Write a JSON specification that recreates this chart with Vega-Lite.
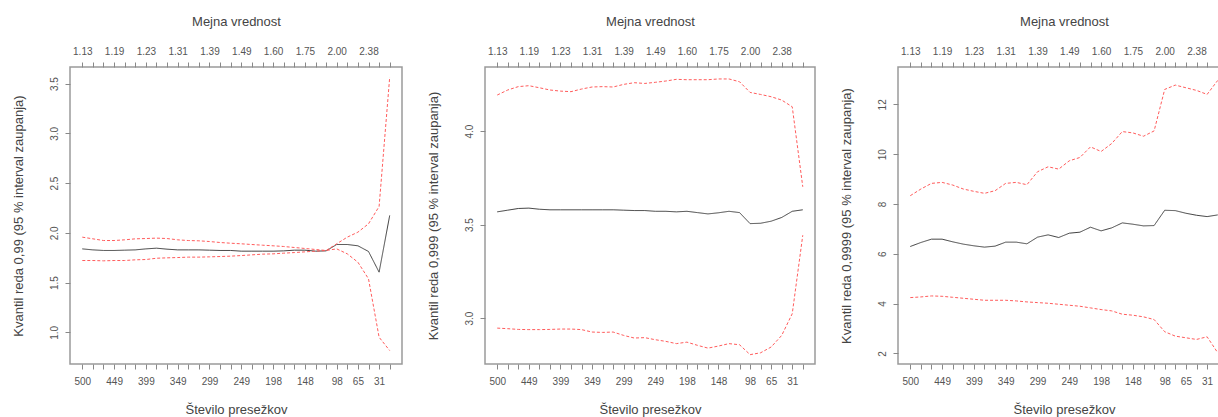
{
  "$schema": "https://vega.github.io/schema/vega-lite/v6.json",
  "padding": {"left": 11, "top": 14, "right": 0, "bottom": 0},
  "spacing": 23,
  "datasets": {
    "p1": [
      {"i":0,"est":1.839,"lo":1.722,"hi":1.957},
      {"i":1,"est":1.829,"lo":1.722,"hi":1.940},
      {"i":2,"est":1.823,"lo":1.719,"hi":1.923},
      {"i":3,"est":1.823,"lo":1.722,"hi":1.923},
      {"i":4,"est":1.826,"lo":1.722,"hi":1.930},
      {"i":5,"est":1.829,"lo":1.729,"hi":1.940},
      {"i":6,"est":1.839,"lo":1.732,"hi":1.943},
      {"i":7,"est":1.846,"lo":1.745,"hi":1.947},
      {"i":8,"est":1.836,"lo":1.749,"hi":1.943},
      {"i":9,"est":1.829,"lo":1.752,"hi":1.930},
      {"i":10,"est":1.829,"lo":1.756,"hi":1.923},
      {"i":11,"est":1.829,"lo":1.756,"hi":1.920},
      {"i":12,"est":1.826,"lo":1.759,"hi":1.913},
      {"i":13,"est":1.823,"lo":1.762,"hi":1.903},
      {"i":14,"est":1.823,"lo":1.766,"hi":1.896},
      {"i":15,"est":1.816,"lo":1.772,"hi":1.890},
      {"i":16,"est":1.816,"lo":1.779,"hi":1.883},
      {"i":17,"est":1.816,"lo":1.786,"hi":1.876},
      {"i":18,"est":1.816,"lo":1.789,"hi":1.870},
      {"i":19,"est":1.819,"lo":1.796,"hi":1.863},
      {"i":20,"est":1.826,"lo":1.802,"hi":1.853},
      {"i":21,"est":1.826,"lo":1.809,"hi":1.843},
      {"i":22,"est":1.816,"lo":1.816,"hi":1.833},
      {"i":23,"est":1.819,"lo":1.823,"hi":1.823},
      {"i":24,"est":1.883,"lo":1.839,"hi":1.890},
      {"i":25,"est":1.883,"lo":1.789,"hi":1.957},
      {"i":26,"est":1.870,"lo":1.705,"hi":2.007},
      {"i":27,"est":1.813,"lo":1.538,"hi":2.091},
      {"i":28,"est":1.605,"lo":0.951,"hi":2.265},
      {"i":29,"est":2.175,"lo":0.817,"hi":3.566}
    ],
    "p2": [
      {"i":0,"est":3.568,"lo":2.946,"hi":4.193},
      {"i":1,"est":3.577,"lo":2.943,"hi":4.220},
      {"i":2,"est":3.586,"lo":2.939,"hi":4.238},
      {"i":3,"est":3.588,"lo":2.938,"hi":4.243},
      {"i":4,"est":3.582,"lo":2.938,"hi":4.232},
      {"i":5,"est":3.579,"lo":2.939,"hi":4.220},
      {"i":6,"est":3.579,"lo":2.941,"hi":4.214},
      {"i":7,"est":3.579,"lo":2.941,"hi":4.211},
      {"i":8,"est":3.579,"lo":2.938,"hi":4.225},
      {"i":9,"est":3.579,"lo":2.925,"hi":4.236},
      {"i":10,"est":3.579,"lo":2.923,"hi":4.238},
      {"i":11,"est":3.579,"lo":2.925,"hi":4.236},
      {"i":12,"est":3.577,"lo":2.907,"hi":4.250},
      {"i":13,"est":3.575,"lo":2.893,"hi":4.259},
      {"i":14,"est":3.575,"lo":2.895,"hi":4.255},
      {"i":15,"est":3.571,"lo":2.884,"hi":4.261},
      {"i":16,"est":3.571,"lo":2.875,"hi":4.268},
      {"i":17,"est":3.568,"lo":2.863,"hi":4.277},
      {"i":18,"est":3.571,"lo":2.871,"hi":4.275},
      {"i":19,"est":3.564,"lo":2.854,"hi":4.275},
      {"i":20,"est":3.557,"lo":2.839,"hi":4.275},
      {"i":21,"est":3.563,"lo":2.850,"hi":4.279},
      {"i":22,"est":3.571,"lo":2.863,"hi":4.279},
      {"i":23,"est":3.564,"lo":2.857,"hi":4.264},
      {"i":24,"est":3.505,"lo":2.804,"hi":4.207},
      {"i":25,"est":3.507,"lo":2.814,"hi":4.196},
      {"i":26,"est":3.518,"lo":2.845,"hi":4.184},
      {"i":27,"est":3.538,"lo":2.907,"hi":4.166},
      {"i":28,"est":3.571,"lo":3.023,"hi":4.130},
      {"i":29,"est":3.579,"lo":3.443,"hi":3.702}
    ],
    "p3": [
      {"i":0,"est":6.293,"lo":4.240,"hi":8.333},
      {"i":1,"est":6.453,"lo":4.267,"hi":8.600},
      {"i":2,"est":6.587,"lo":4.307,"hi":8.827},
      {"i":3,"est":6.587,"lo":4.293,"hi":8.867},
      {"i":4,"est":6.480,"lo":4.253,"hi":8.760},
      {"i":5,"est":6.387,"lo":4.213,"hi":8.600},
      {"i":6,"est":6.320,"lo":4.173,"hi":8.507},
      {"i":7,"est":6.267,"lo":4.133,"hi":8.427},
      {"i":8,"est":6.307,"lo":4.133,"hi":8.533},
      {"i":9,"est":6.467,"lo":4.133,"hi":8.827},
      {"i":10,"est":6.467,"lo":4.107,"hi":8.867},
      {"i":11,"est":6.400,"lo":4.067,"hi":8.773},
      {"i":12,"est":6.667,"lo":4.040,"hi":9.293},
      {"i":13,"est":6.760,"lo":4.013,"hi":9.493},
      {"i":14,"est":6.653,"lo":3.973,"hi":9.400},
      {"i":15,"est":6.827,"lo":3.933,"hi":9.733},
      {"i":16,"est":6.867,"lo":3.893,"hi":9.867},
      {"i":17,"est":7.067,"lo":3.827,"hi":10.293},
      {"i":18,"est":6.920,"lo":3.760,"hi":10.107},
      {"i":19,"est":7.040,"lo":3.707,"hi":10.427},
      {"i":20,"est":7.240,"lo":3.573,"hi":10.907},
      {"i":21,"est":7.187,"lo":3.533,"hi":10.853},
      {"i":22,"est":7.120,"lo":3.467,"hi":10.720},
      {"i":23,"est":7.133,"lo":3.360,"hi":10.933},
      {"i":24,"est":7.747,"lo":2.870,"hi":12.600},
      {"i":25,"est":7.733,"lo":2.693,"hi":12.773},
      {"i":26,"est":7.627,"lo":2.627,"hi":12.667},
      {"i":27,"est":7.547,"lo":2.560,"hi":12.560},
      {"i":28,"est":7.493,"lo":2.667,"hi":12.400},
      {"i":29,"est":7.560,"lo":2.027,"hi":12.960}
    ]
  },
  "hconcat": [
    {
      "width": 332,
      "height": 297,
      "data": {"name": "p1"},
      "transform": [{"fold": ["est", "lo", "hi"], "as": ["s", "v"]}],
      "layer": [
        {
          "mark": {"type": "line", "strokeWidth": 1},
          "encoding": {
            "x": {"field": "i", "type": "quantitative",
              "scale": {"domain": [-1.16, 30.16], "nice": false, "zero": false},
              "axis": {"orient": "bottom", "title": "Število presežkov", "values": [0,1,2,3,4,5,6,7,8,9,10,11,12,13,14,15,16,17,18,19,20,21,22,23,24,25,26,27,28,29],
                "labelExpr": "['500','','','449','','','399','','','349','','','299','','','249','','','198','','','148','','','98','','65','','31',''][datum.value]",
                "labelOverlap": false, "labelFlush": false, "labelBound": false, "labelPadding": 7, "titlePadding": 17}},
            "y": {"field": "v", "type": "quantitative",
              "scale": {"domain": [0.682, 3.667], "nice": false, "zero": false},
              "axis": {"title": "Kvantil reda 0,99 (95 % interval zaupanja)", "values": [1, 1.5, 2, 2.5, 3, 3.5], "format": ".1f",
                "labelAngle": -90, "labelAlign": "center", "labelBaseline": "bottom", "labelPadding": 6, "titlePadding": 24}},
            "color": {"field": "s", "type": "nominal", "scale": {"domain": ["est", "lo", "hi"], "range": ["#404040", "#ff5c5c", "#ff5c5c"]}, "legend": null},
            "strokeDash": {"field": "s", "type": "nominal", "scale": {"domain": ["est", "lo", "hi"], "range": [[1, 0], [3, 2], [3, 2]]}, "legend": null}
          }
        },
        {
          "mark": {"type": "rule", "opacity": 0},
          "encoding": {
            "x": {"field": "i", "type": "quantitative",
              "axis": {"orient": "top", "title": "Mejna vrednost", "values": [0,1,2,3,4,5,6,7,8,9,10,11,12,13,14,15,16,17,18,19,20,21,22,23,24,25,26,27,28,29],
                "labelExpr": "['1.13','','','1.19','','','1.23','','','1.31','','','1.39','','','1.49','','','1.60','','','1.75','','','2.00','','','2.38','',''][datum.value]",
                "labelOverlap": false, "labelFlush": false, "labelBound": false, "labelPadding": 6, "titlePadding": 18}}
          }
        }
      ],
      "resolve": {"axis": {"x": "independent"}}
    },
    {
      "width": 330,
      "height": 297,
      "data": {"name": "p2"},
      "transform": [{"fold": ["est", "lo", "hi"], "as": ["s", "v"]}],
      "layer": [
        {
          "mark": {"type": "line", "strokeWidth": 1},
          "encoding": {
            "x": {"field": "i", "type": "quantitative",
              "scale": {"domain": [-1.16, 30.16], "nice": false, "zero": false},
              "axis": {"orient": "bottom", "title": "Število presežkov", "values": [0,1,2,3,4,5,6,7,8,9,10,11,12,13,14,15,16,17,18,19,20,21,22,23,24,25,26,27,28,29],
                "labelExpr": "['500','','','449','','','399','','','349','','','299','','','249','','','198','','','148','','','98','','65','','31',''][datum.value]",
                "labelOverlap": false, "labelFlush": false, "labelBound": false, "labelPadding": 7, "titlePadding": 17}},
            "y": {"field": "v", "type": "quantitative",
              "scale": {"domain": [2.754, 4.343], "nice": false, "zero": false},
              "axis": {"title": "Kvantil reda 0,999 (95 % interval zaupanja)", "values": [3, 3.5, 4], "format": ".1f",
                "labelAngle": -90, "labelAlign": "center", "labelBaseline": "bottom", "labelPadding": 6, "titlePadding": 24}},
            "color": {"field": "s", "type": "nominal", "scale": {"domain": ["est", "lo", "hi"], "range": ["#404040", "#ff5c5c", "#ff5c5c"]}, "legend": null},
            "strokeDash": {"field": "s", "type": "nominal", "scale": {"domain": ["est", "lo", "hi"], "range": [[1, 0], [3, 2], [3, 2]]}, "legend": null}
          }
        },
        {
          "mark": {"type": "rule", "opacity": 0},
          "encoding": {
            "x": {"field": "i", "type": "quantitative",
              "axis": {"orient": "top", "title": "Mejna vrednost", "values": [0,1,2,3,4,5,6,7,8,9,10,11,12,13,14,15,16,17,18,19,20,21,22,23,24,25,26,27,28,29],
                "labelExpr": "['1.13','','','1.19','','','1.23','','','1.31','','','1.39','','','1.49','','','1.60','','','1.75','','','2.00','','','2.38','',''][datum.value]",
                "labelOverlap": false, "labelFlush": false, "labelBound": false, "labelPadding": 6, "titlePadding": 18}}
          }
        }
      ],
      "resolve": {"axis": {"x": "independent"}}
    },
    {
      "width": 332,
      "height": 297,
      "data": {"name": "p3"},
      "transform": [{"fold": ["est", "lo", "hi"], "as": ["s", "v"]}],
      "layer": [
        {
          "mark": {"type": "line", "strokeWidth": 1},
          "encoding": {
            "x": {"field": "i", "type": "quantitative",
              "scale": {"domain": [-1.16, 30.16], "nice": false, "zero": false},
              "axis": {"orient": "bottom", "title": "Število presežkov", "values": [0,1,2,3,4,5,6,7,8,9,10,11,12,13,14,15,16,17,18,19,20,21,22,23,24,25,26,27,28,29],
                "labelExpr": "['500','','','449','','','399','','','349','','','299','','','249','','','198','','','148','','','98','','65','','31',''][datum.value]",
                "labelOverlap": false, "labelFlush": false, "labelBound": false, "labelPadding": 7, "titlePadding": 17}},
            "y": {"field": "v", "type": "quantitative",
              "scale": {"domain": [1.574, 13.5], "nice": false, "zero": false},
              "axis": {"title": "Kvantil reda 0,9999 (95 % interval zaupanja)", "values": [2, 4, 6, 8, 10, 12], "format": "d",
                "labelAngle": -90, "labelAlign": "center", "labelBaseline": "bottom", "labelPadding": 6, "titlePadding": 24}},
            "color": {"field": "s", "type": "nominal", "scale": {"domain": ["est", "lo", "hi"], "range": ["#404040", "#ff5c5c", "#ff5c5c"]}, "legend": null},
            "strokeDash": {"field": "s", "type": "nominal", "scale": {"domain": ["est", "lo", "hi"], "range": [[1, 0], [3, 2], [3, 2]]}, "legend": null}
          }
        },
        {
          "mark": {"type": "rule", "opacity": 0},
          "encoding": {
            "x": {"field": "i", "type": "quantitative",
              "axis": {"orient": "top", "title": "Mejna vrednost", "values": [0,1,2,3,4,5,6,7,8,9,10,11,12,13,14,15,16,17,18,19,20,21,22,23,24,25,26,27,28,29],
                "labelExpr": "['1.13','','','1.19','','','1.23','','','1.31','','','1.39','','','1.49','','','1.60','','','1.75','','','2.00','','','2.38','',''][datum.value]",
                "labelOverlap": false, "labelFlush": false, "labelBound": false, "labelPadding": 6, "titlePadding": 18}}
          }
        }
      ],
      "resolve": {"axis": {"x": "independent"}}
    }
  ],
  "config": {
    "font": "Liberation Sans",
    "view": {"stroke": "#9a9a9a", "strokeWidth": 1.5},
    "axis": {
      "domain": false,
      "grid": false,
      "tickColor": "#888888",
      "tickSize": 5,
      "labelColor": "#555555",
      "labelFontSize": 10,
      "labelFont": "Liberation Sans",
      "titleColor": "#444444",
      "titleFontSize": 13,
      "titleFontWeight": "normal",
      "titleFont": "Liberation Sans"
    }
  }
}
